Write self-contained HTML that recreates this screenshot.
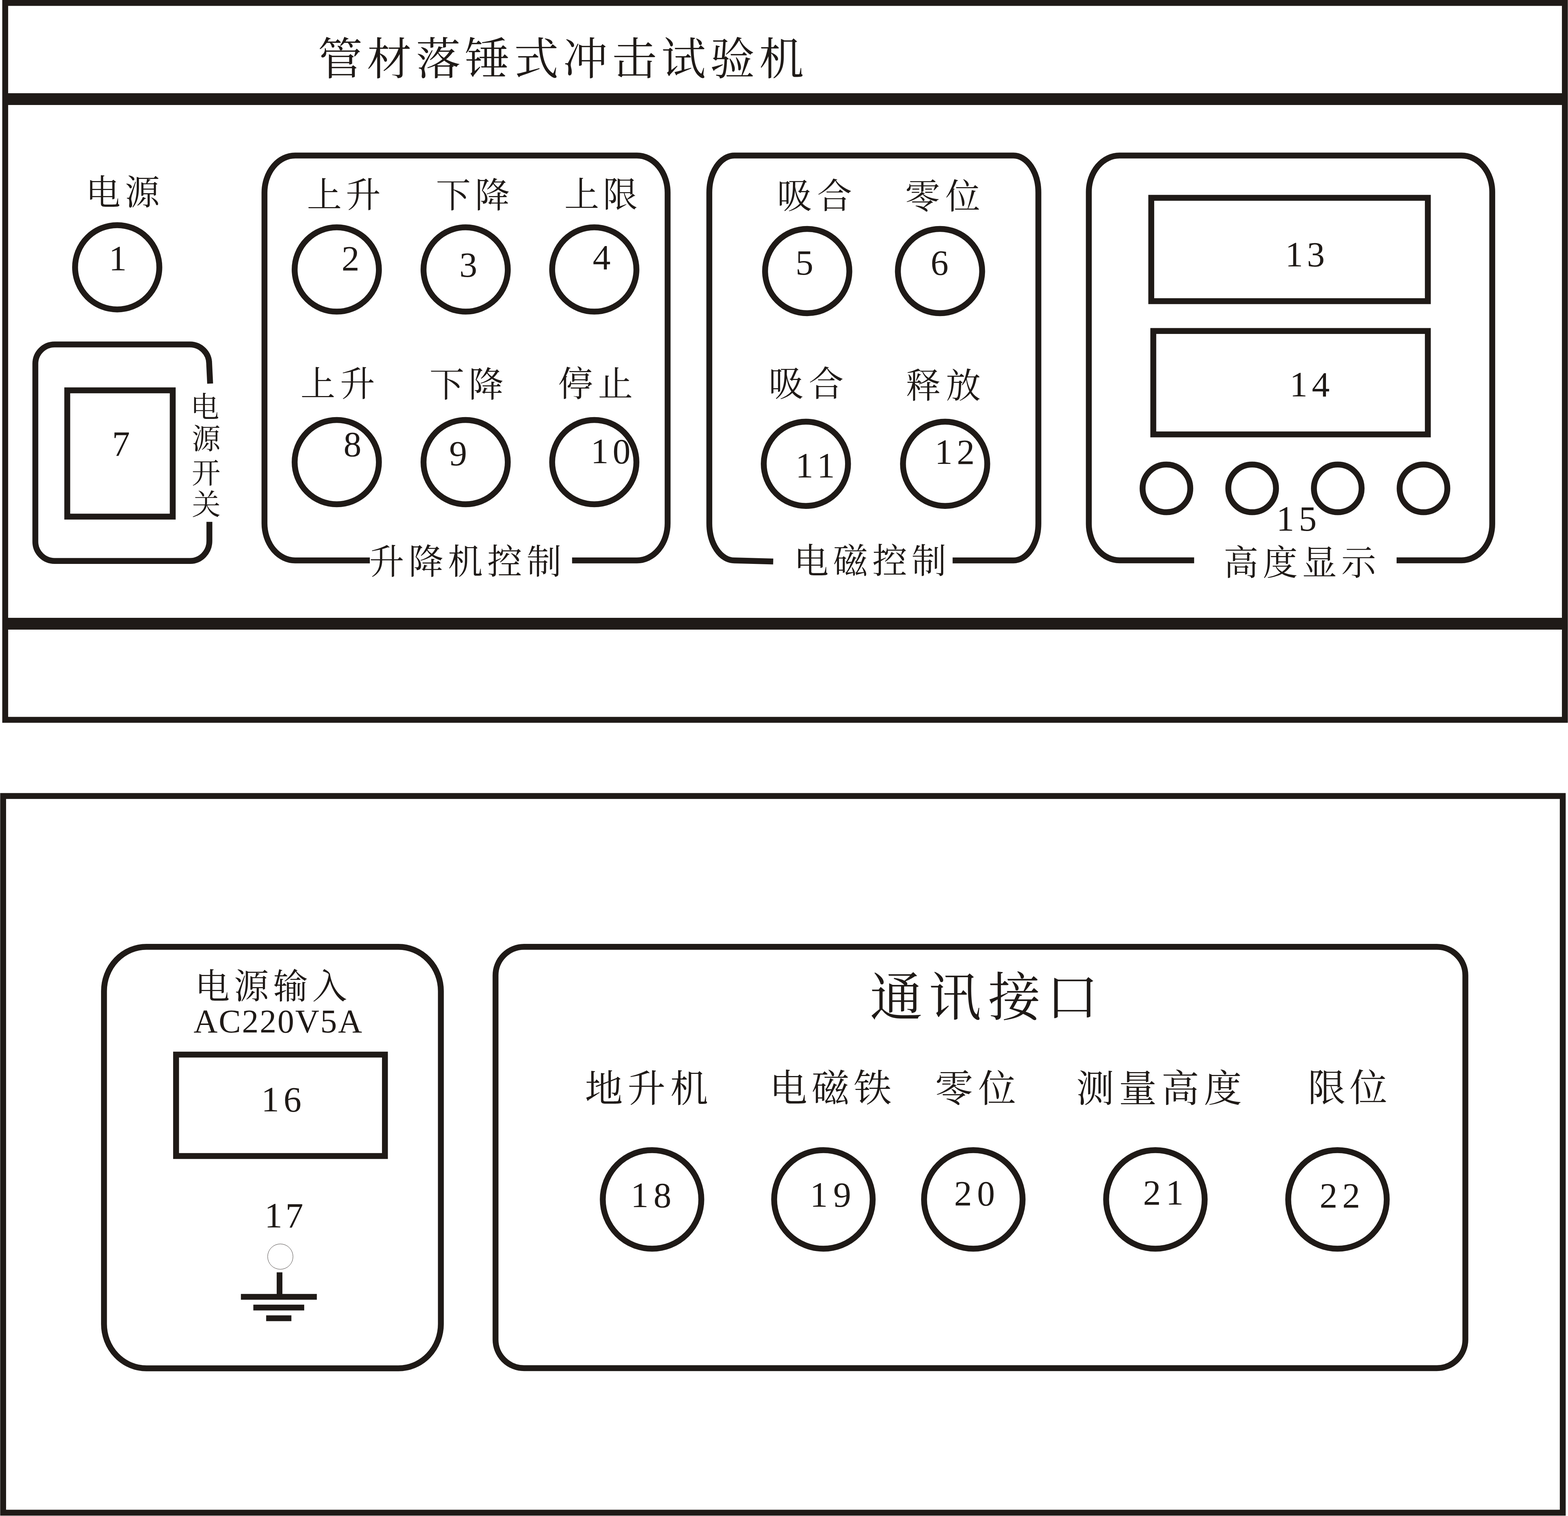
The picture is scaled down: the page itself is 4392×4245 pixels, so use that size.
<!DOCTYPE html>
<html lang="zh-CN">
<head>
<meta charset="utf-8">
<title>管材落锤式冲击试验机 面板示意图</title>
<style>
html,body{margin:0;padding:0;background:#fff;}
body{width:4392px;height:4245px;font-family:"Liberation Serif",serif;}
svg{display:block;}
.ln{fill:none;stroke:#1f1a17;stroke-width:16.5;}
.tk{fill:#1f1a17;stroke:none;}
.tx{fill:#1f1a17;stroke:none;font-family:"Liberation Serif","Noto Serif CJK SC",serif;}
.c97{font-size:97.5px;}
.c106{font-size:106px;}
.d{font-size:100px;}
</style>
</head>
<body>
<svg width="4392" height="4245" viewBox="0 0 4392 4245" role="img" aria-label="管材落锤式冲击试验机 前面板与后面板示意图">
<rect width="4392" height="4245" fill="#fff"/>
<g class="ln">
<rect x="14.6" y="8.2" width="4368.6" height="2007.4"/>
<rect class="tk" x="14" y="261" width="4369" height="33"/>
<rect class="tk" x="14" y="1730" width="4369" height="33"/>
<rect x="8.8" y="2228.9" width="4368.5" height="2006.8"/>
<circle cx="328.3" cy="748.4" r="118"/>
<circle cx="943.3" cy="754.6" r="118"/>
<circle cx="943.3" cy="1294" r="118"/>
<circle cx="1304.3" cy="754.6" r="118"/>
<circle cx="1304.3" cy="1294" r="118"/>
<circle cx="1664.6" cy="754.6" r="118"/>
<circle cx="1664.6" cy="1294" r="118"/>
<circle cx="2261" cy="759" r="118"/>
<circle cx="2633" cy="759" r="118"/>
<circle cx="2257.3" cy="1298.7" r="118"/>
<circle cx="2647.3" cy="1298.7" r="118"/>
<circle cx="3267.2" cy="1367.5" r="66.8"/>
<circle cx="3507.3" cy="1367.5" r="66.8"/>
<circle cx="3747.1" cy="1367.5" r="66.8"/>
<circle cx="3987.2" cy="1367.5" r="66.8"/>
<path d="M1035.9 1569.3H826.8A86 104 0 0 1 740.8 1465.3V539.5A86 104 0 0 1 826.8 435.5H1784A86 104 0 0 1 1870 539.5V1465.3A86 104 0 0 1 1784 1569.3H1602.4"/>
<path d="M2165.8 1572.2L2056.8 1569.3H2056.8A70 104 0 0 1 1986.8 1465.3V539.5A70 104 0 0 1 2056.8 435.5H2838.5A70 104 0 0 1 2908.5 539.5V1465.3A70 104 0 0 1 2838.5 1569.3H2668.3"/>
<path d="M3344.8 1569H3135.8A86 102 0 0 1 3049.8 1467V537.5A86 102 0 0 1 3135.8 435.5H4093.8A86 102 0 0 1 4179.8 537.5V1467A86 102 0 0 1 4093.8 1569H3911.9"/>
<path d="M588.6 1074.2L585.9 1018.5A54 54 0 0 0 532.2 964.5H153A54 54 0 0 0 99 1018.5V1516.7A54 54 0 0 0 153 1570.7H532.2A54 56 0 0 0 586.5 1514.7V1461.2"/>
<rect x="188.4" y="1093" width="295.4" height="353.6"/>
<rect x="3224.7" y="553.9" width="774.7" height="289.4"/>
<rect x="3230.4" y="926.8" width="769" height="289.6"/>
<rect x="291.3" y="2651.2" width="943.6" height="1180.4" rx="119" ry="124"/>
<rect x="493.2" y="2953" width="585" height="284"/>
<rect x="1388" y="2651.2" width="2716.5" height="1179.8" rx="80" ry="80"/>
<circle cx="1826.4" cy="3358.5" r="138"/>
<circle cx="2306.4" cy="3358.5" r="138"/>
<circle cx="2726.3" cy="3358.5" r="138"/>
<circle cx="3236.3" cy="3358.5" r="138"/>
<circle cx="3746.3" cy="3358.5" r="138"/>
<circle cx="785.2" cy="3518.7" r="35.5" style="stroke-width:0.9"/>
<rect class="tk" x="775" y="3562.7" width="16" height="62"/>
<rect class="tk" x="674.8" y="3623.2" width="212.7" height="16.2"/>
<rect class="tk" x="709.6" y="3653.2" width="142.5" height="16.2"/>
<rect class="tk" x="745.5" y="3683.2" width="70.7" height="16.2"/>
</g>
<g class="tx">
<text font-size="125" y="208.5" x="890.5 1027.84 1165.18 1302.52 1439.86 1577.21 1714.55 1851.89 1989.23 2126.57">管材落锤式冲击试验机</text>
<text class="c97" y="573.35" x="240.02 350.11">电源</text>
<text class="d" y="757.38" x="304.9">1</text>
<text class="c97" y="579.66" x="859.8 968.81">上升</text>
<text class="c97" y="580.75" x="1221 1330.33">下降</text>
<text class="c97" y="578.97" x="1580.8 1688.52">上限</text>
<text class="d" y="757.28" x="956.77">2</text>
<text class="d" y="774.67" x="1286.82">3</text>
<text class="d" y="753.69" x="1660.17">4</text>
<text class="c97" y="1108.91" x="841.7 952.81">上升</text>
<text class="c97" y="1110.74" x="1203 1312.73">下降</text>
<text class="c97" y="1109.14" x="1563.18 1675.1">停止</text>
<text class="d" y="1276.57" x="962.17">8</text>
<text class="d" y="1303.37" x="1258.17">9</text>
<text class="d" y="1297.27" x="1654.73 1715.96">10</text>
<text class="c97" y="1606.8" x="1034.4 1144.59 1254.78 1364.98 1475.17">升降机控制</text>
<text class="c97" y="583.2" x="2176.59 2289.02">吸合</text>
<text class="c97" y="584.32" x="2535.31 2647.92">零位</text>
<text class="d" y="768.67" x="2228.22">5</text>
<text class="d" y="768.67" x="2606.72">6</text>
<text class="c97" y="1109.24" x="2152.99 2265.42">吸合</text>
<text class="c97" y="1113.9" x="2537.59 2649.62">释放</text>
<text class="d" y="1337.23" x="2228.13 2288.57">11</text>
<text class="d" y="1298.88" x="2618.13 2680.08">12</text>
<text class="c97" y="1604.8" x="2223.42 2333.4 2443.38 2553.37">电磁控制</text>
<text class="d" y="746.12" x="3600.03 3660.84">13</text>
<text class="d" y="1110.19" x="3612.43 3674.53">14</text>
<text class="d" y="1486.42" x="3575.23 3637.88">15</text>
<text class="c97" y="1609.69" x="3427.24 3537.16 3647.08 3756.99">高度显示</text>
<text class="d" y="1276.43" x="314.07">7</text>
<text font-size="80.5" x="533.52 537.3 536.9 537.46" y="1168 1256.66 1353.28 1441.23">电源开关</text>
<text class="c97" y="2795.89" x="546.12 655.56 765 874.44">电源输入</text>
<text font-size="93" x="542.2" y="2890.94" textLength="472" lengthAdjust="spacing">AC220V5A</text>
<text class="d" y="3111.97" x="731.93 794.14">16</text>
<text class="d" y="3436.58" x="741.03 799.53">17</text>
<text font-size="147" y="2843.56" x="2436.82 2601.14 2767.78 2929.84">通讯接口</text>
<text class="c106" y="3085.22" x="1638.5 1758.04 1877.57">地升机</text>
<text class="c106" y="3084.44" x="2155.24 2273.19 2391.14">电磁铁</text>
<text class="c106" y="3084.84" x="2619.13 2739.9">零位</text>
<text class="c106" y="3084.76" x="3014.77 3133.91 3253.06 3372.2">测量高度</text>
<text class="c106" y="3083.42" x="3662.98 3780.1">限位</text>
<text class="d" y="3380.02" x="1766.73 1830.44">18</text>
<text class="d" y="3378.92" x="2268.83 2333.94">19</text>
<text class="d" y="3375.12" x="2672.55 2736.86">20</text>
<text class="d" y="3372.73" x="3201.75 3265.47">21</text>
<text class="d" y="3381.43" x="3696.15 3759.68">22</text>
</g>
</svg>
</body>
</html>
